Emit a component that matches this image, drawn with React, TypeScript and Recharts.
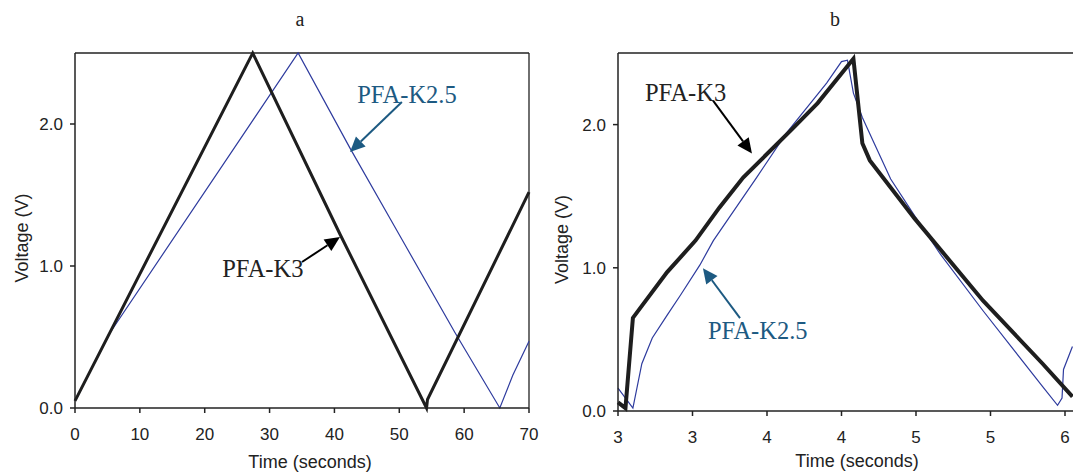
import { LineChart, Line, XAxis, YAxis, ReferenceLine, ReferenceDot } from "recharts";

// panel a : full charge/discharge cycles
const k3TimeA = [0, 27.4, 40.9, 54.2, 54.35, 70];
const k3VoltA = [0.05, 2.5, 1.22, 0.0, 0.06, 1.52];
const k25TimeA = [0, 5.4, 34.4, 42.4, 50, 58.6, 65.5, 67.5, 70];
const k25VoltA = [0.05, 0.53, 2.5, 1.83, 1.22, 0.53, 0.0, 0.23, 0.47];
const ticksA = [0, 10, 20, 30, 40, 50, 60, 70];

// panel b : zoom on one cycle
const k3TimeB = [3.0, 3.05, 3.1, 3.15, 3.33, 3.52, 3.68, 3.84, 4.17, 4.34, 4.58, 4.64, 4.69, 4.99, 5.45, 5.85, 6.05];
const k3VoltB = [0.06, 0.02, 0.65, 0.72, 0.97, 1.19, 1.42, 1.63, 1.97, 2.15, 2.46, 1.87, 1.75, 1.345, 0.77, 0.33, 0.1];
const k25TimeB = [3.0, 3.1, 3.16, 3.23, 3.33, 3.42, 3.55, 3.64, 3.93, 4.13, 4.4, 4.5, 4.54, 4.58, 4.64, 4.71, 4.83, 4.98, 5.16, 5.45, 5.85, 5.95, 5.98, 5.99, 6.05];
const k25VoltB = [0.16, 0.02, 0.33, 0.51, 0.67, 0.81, 1.02, 1.19, 1.63, 1.94, 2.29, 2.44, 2.45, 2.22, 2.05, 1.89, 1.62, 1.38, 1.1, 0.7, 0.17, 0.04, 0.09, 0.29, 0.45];
const ticksB = [3, 3.5, 4, 4.5, 5, 5.5, 6];
const tickLabelsB = ["3", "3", "4", "4", "5", "5", "6"];

const yTicks = [0, 1, 2];

const zip = (t: number[], v: number[]) => t.map((x, i) => ({ t: x, v: v[i] }));

const BLACK = "#1e1e1e";
const BLUE = "#2e3b9e";
const NOTE_BLUE = "#1d5a82";
const AXIS = "#222";
const SANS = "'Liberation Sans', Arial, sans-serif";
const SERIF = "'Liberation Serif', 'Times New Roman', serif";

const tickStyle = { fill: AXIS, fontSize: 17, fontFamily: SANS };

const arrow = (color: string) => (p: any) => {
  const { x1, y1, x2, y2 } = p;
  const dx = x2 - x1;
  const dy = y2 - y1;
  const len = Math.sqrt(dx * dx + dy * dy);
  const ux = dx / len;
  const uy = dy / len;
  const hl = 15;
  const hw = 7;
  const bx = x2 - ux * hl;
  const by = y2 - uy * hl;
  const pts = `${x2},${y2} ${bx - uy * hw},${by + ux * hw} ${bx + uy * hw},${by - ux * hw}`;
  return (
    <g>
      <line x1={x1} y1={y1} x2={bx} y2={by} stroke={color} strokeWidth={2} />
      <polygon points={pts} fill={color} />
    </g>
  );
};

const note = (text: string, color: string) => (p: any) => (
  <text x={p.cx} y={p.cy} fill={color} fontSize={24.5} fontFamily={SERIF} textAnchor="start">
    {text}
  </text>
);

const yLabel = (dx: number, dy: number) => (p: any) => {
  const vb = p.viewBox;
  const x = vb.x + dx;
  const y = vb.y + vb.height / 2 + dy;
  return (
    <text x={x} y={y} transform={`rotate(-90 ${x} ${y})`} textAnchor="middle" fill={AXIS} fontSize={18} fontFamily={SANS}>
      Voltage (V)
    </text>
  );
};

const xLabel = (dx: number, dy: number) => (p: any) => {
  const vb = p.viewBox;
  return (
    <text x={vb.x + vb.width / 2 + dx} y={vb.y + dy} textAnchor="middle" fill={AXIS} fontSize={18} fontFamily={SANS}>
      Time (seconds)
    </text>
  );
};

const titleStyle = (left: number): React.CSSProperties => ({
  position: "absolute",
  left,
  top: 8,
  width: 20,
  textAlign: "center",
  fontFamily: SERIF,
  fontSize: 20,
  color: "#222",
});

const App = () => {
  return (
    <div style={{ position: "absolute", left: 0, top: 0, width: 1073, height: 472, background: "#fff", overflow: "hidden" }}>
      <div style={titleStyle(290)}>a</div>
      <div style={titleStyle(825)}>b</div>

      <div style={{ position: "absolute", left: 0, top: 0 }}>
        <LineChart width={540} height={472} margin={{ top: 53, right: 11, bottom: 0, left: 0 }}>
          <XAxis
            type="number"
            dataKey="t"
            domain={[0, 70]}
            ticks={ticksA}
            height={64}
            tick={tickStyle}
            tickSize={5}
            tickMargin={15}
            stroke={AXIS}
            strokeWidth={1.5}
            label={{ content: xLabel(8, 60) }}
          />
          <YAxis
            type="number"
            domain={[0, 2.5]}
            ticks={yTicks}
            width={75}
            tick={tickStyle}
            tickSize={5}
            tickMargin={7}
            tickFormatter={(v: number) => v.toFixed(1)}
            stroke={AXIS}
            strokeWidth={1.5}
            label={{ content: yLabel(28, 7.5) }}
          />
          <ReferenceLine y={2.5} stroke={AXIS} strokeWidth={1.3} />
          <ReferenceLine x={70} stroke={AXIS} strokeWidth={1.3} />
          <Line data={zip(k25TimeA, k25VoltA)} dataKey="v" type="linear" stroke={BLUE} strokeWidth={1.2} dot={false} isAnimationActive={false} />
          <Line data={zip(k3TimeA, k3VoltA)} dataKey="v" type="linear" stroke={BLACK} strokeWidth={3} dot={false} isAnimationActive={false} />
          <ReferenceLine segment={[{ x: 50.4, y: 2.155 }, { x: 42.4, y: 1.803 }]} shape={arrow(NOTE_BLUE)} />
          <ReferenceLine segment={[{ x: 35.0, y: 1.028 }, { x: 40.86, y: 1.204 }]} shape={arrow("#000")} />
          <ReferenceDot x={43.5} y={2.148} r={0} shape={note("PFA-K2.5", NOTE_BLUE)} />
          <ReferenceDot x={22.7} y={0.923} r={0} shape={note("PFA-K3", "#222")} />
        </LineChart>
      </div>

      <div style={{ position: "absolute", left: 540, top: 0 }}>
        <LineChart width={533} height={472} margin={{ top: 53, right: 0, bottom: 0, left: 0 }}>
          <XAxis
            type="number"
            dataKey="t"
            domain={[3, 6.0537]}
            ticks={ticksB}
            height={61}
            tick={tickStyle}
            tickSize={5}
            tickMargin={15}
            tickFormatter={(_v: number, i: number) => tickLabelsB[i]}
            stroke={AXIS}
            strokeWidth={1.5}
            label={{ content: xLabel(11.5, 56) }}
          />
          <YAxis
            type="number"
            domain={[0, 2.5]}
            ticks={yTicks}
            width={78}
            tick={tickStyle}
            tickSize={5}
            tickMargin={7}
            tickFormatter={(v: number) => v.toFixed(1)}
            stroke={AXIS}
            strokeWidth={1.5}
            label={{ content: yLabel(28, 7.5) }}
          />
          <ReferenceLine y={2.5} stroke={AXIS} strokeWidth={1.3} />
          <Line data={zip(k25TimeB, k25VoltB)} dataKey="v" type="linear" stroke={BLUE} strokeWidth={1.2} dot={false} isAnimationActive={false} />
          <Line data={zip(k3TimeB, k3VoltB)} dataKey="v" type="linear" stroke={BLACK} strokeWidth={4} dot={false} isAnimationActive={false} />
          <ReferenceLine segment={[{ x: 3.638, y: 2.167 }, { x: 3.899, y: 1.798 }]} shape={arrow("#000")} />
          <ReferenceLine segment={[{ x: 3.819, y: 0.648 }, { x: 3.57, y: 0.997 }]} shape={arrow(NOTE_BLUE)} />
          <ReferenceDot x={3.181} y={2.167} r={0} shape={note("PFA-K3", "#222")} />
          <ReferenceDot x={3.604} y={0.502} r={0} shape={note("PFA-K2.5", NOTE_BLUE)} />
        </LineChart>
      </div>
    </div>
  );
};

export default App;
